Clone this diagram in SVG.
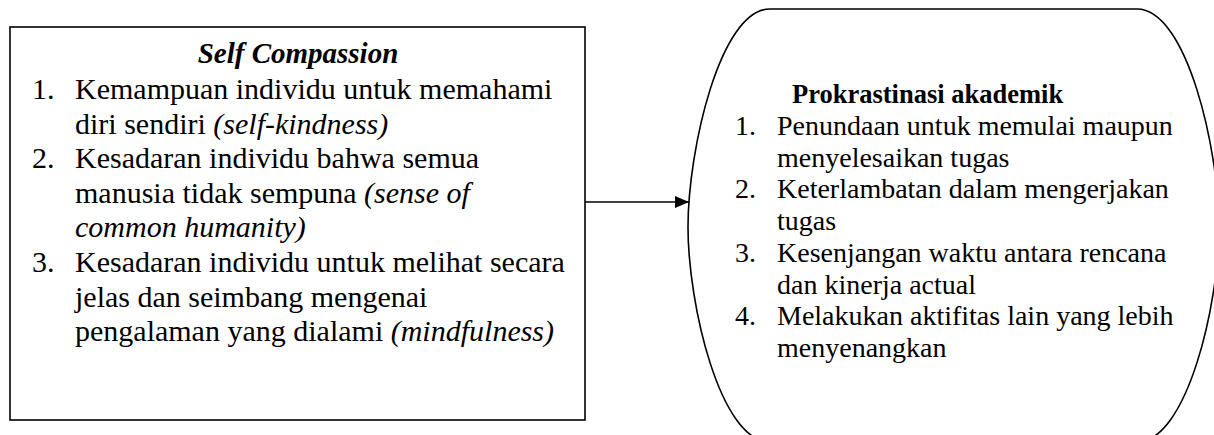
<svg xmlns="http://www.w3.org/2000/svg" width="1214" height="435" viewBox="0 0 1214 435">
<defs>
<style>
.t{font-family:"Liberation Serif","Times New Roman",serif;fill:#000}
.l{font-size:30px}
.r{font-size:28px}
.i{font-style:italic}
.shape{fill:#fff;stroke:#000;stroke-width:1.6}
.conn{stroke:#000;stroke-width:1.6;fill:none}
</style>
<marker id="ah" viewBox="0 0 14 12" refX="14" refY="6" markerWidth="14" markerHeight="12" markerUnits="userSpaceOnUse" orient="auto">
<path d="M0,0 L14,6 L0,12 Z" fill="#000"/>
</marker>
</defs>
<rect width="1214" height="435" fill="#fff"/>
<g id="self-compassion">
<rect class="shape" x="10" y="27" width="575" height="393"/>
<text class="t" x="298" y="63" text-anchor="middle" font-size="29" font-weight="bold" font-style="italic">Self Compassion</text>
<g class="t l">
<text x="32" y="99">1.</text>
<text x="75" y="99">Kemampuan individu untuk memahami</text>
<text x="75" y="133.6">diri sendiri <tspan class="i">(self-kindness)</tspan></text>
<text x="32" y="168.2">2.</text>
<text x="75" y="168.2">Kesadaran individu bahwa semua</text>
<text x="75" y="202.8">manusia tidak sempuna <tspan class="i">(sense of</tspan></text>
<text x="75" y="237.4" class="i">common humanity)</text>
<text x="32" y="272">3.</text>
<text x="75" y="272">Kesadaran individu untuk melihat secara</text>
<text x="75" y="306.6">jelas dan seimbang mengenai</text>
<text x="75" y="341.2">pengalaman yang dialami <tspan class="i">(mindfulness)</tspan></text>
</g>
</g>
<g id="prokrastinasi">
<path class="shape" d="M770,9 H1137 C1187,9 1219,150 1219,227 C1219,304 1187,442 1137,442 H770 C720,442 688,304 688,227 C688,150 720,9 770,9 Z"/>
<text class="t" x="792" y="103" font-size="26.5" font-weight="bold">Prokrastinasi akademik</text>
<g class="t r">
<text x="735" y="134.75">1.</text>
<text x="777" y="134.75">Penundaan untuk memulai maupun</text>
<text x="777" y="166.5">menyelesaikan tugas</text>
<text x="735" y="198.25">2.</text>
<text x="777" y="198.25">Keterlambatan dalam mengerjakan</text>
<text x="777" y="230">tugas</text>
<text x="735" y="261.75">3.</text>
<text x="777" y="261.75">Kesenjangan waktu antara rencana</text>
<text x="777" y="293.5">dan kinerja actual</text>
<text x="735" y="325.25">4.</text>
<text x="777" y="325.25">Melakukan aktifitas lain yang lebih</text>
<text x="777" y="357">menyenangkan</text>
</g>
</g>
<g id="connectors">
<line class="conn" x1="585" y1="202" x2="689" y2="202" marker-end="url(#ah)"/>
</g>
</svg>
